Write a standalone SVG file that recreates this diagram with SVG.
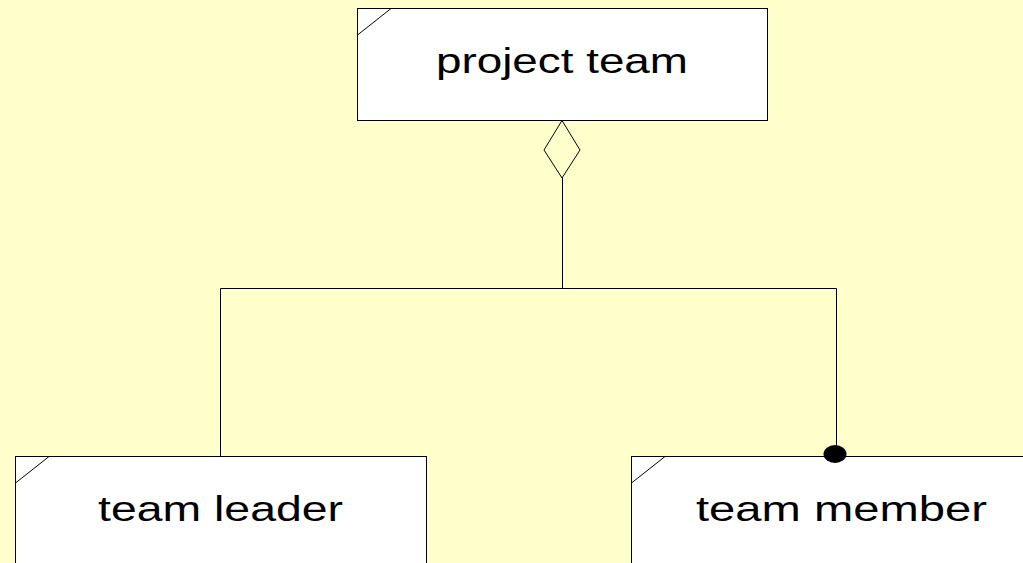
<svg xmlns="http://www.w3.org/2000/svg" width="1023" height="563" viewBox="0 0 1023 563">
<style>
.box{fill:#ffffff;stroke:#000000;stroke-width:1}
.corner{fill:none;stroke:#000000;stroke-width:1}
.lbl{font-family:"Liberation Sans",Arial,sans-serif;font-size:35px;fill:#000000;text-anchor:middle}
.conn{fill:none;stroke:#000000;stroke-width:1}
</style>
<rect x="0" y="0" width="1023" height="563" fill="#ffffcc"/>
<g id="project-team">
<rect class="box" x="357.5" y="8.5" width="410" height="112"/>
<path class="corner" d="M357.5,35 L391,8.5"/>
<text class="lbl" x="562" y="73" textLength="252" lengthAdjust="spacingAndGlyphs">project team</text>
</g>
<g id="team-leader">
<rect class="box" x="15.5" y="456.5" width="411" height="120"/>
<path class="corner" d="M15.5,483 L49,456.5"/>
<text class="lbl" x="220.5" y="521" textLength="245" lengthAdjust="spacingAndGlyphs">team leader</text>
</g>
<g id="team-member">
<rect class="box" x="631.5" y="456.5" width="411" height="120"/>
<path class="corner" d="M631.5,483 L665,456.5"/>
<text class="lbl" x="841.5" y="521" textLength="291" lengthAdjust="spacingAndGlyphs">team member</text>
</g>
<g id="connectors">
<polygon class="conn" points="562,120.5 580,150 562,178 544,150" fill="#ffffcc"/>
<path class="conn" d="M562.5,178 V288.5 M220.5,288.5 H836.5 M220.5,288.5 V456 M836.5,288.5 V446"/>
<ellipse cx="835" cy="454" rx="11.5" ry="9" fill="#000000"/>
</g>
</svg>
